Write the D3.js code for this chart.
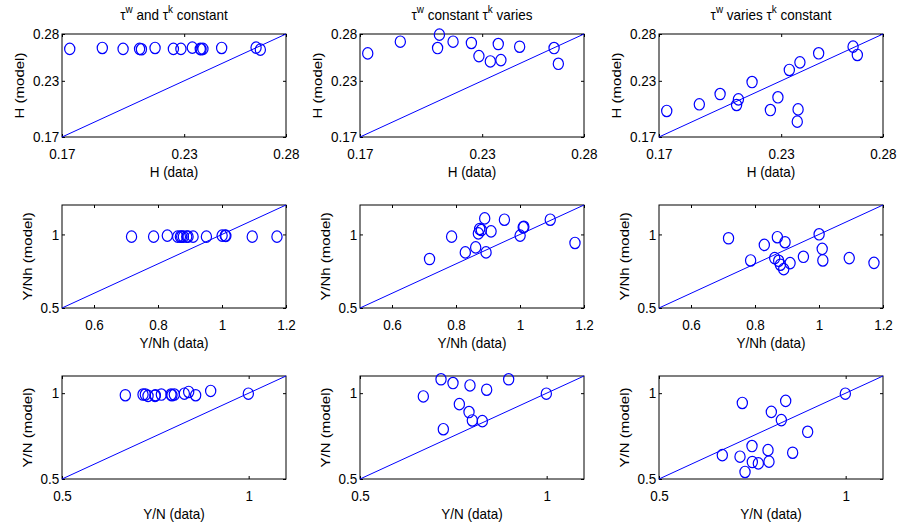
<!DOCTYPE html>
<html>
<head>
<meta charset="utf-8">
<script src="https://cdn.jsdelivr.net/npm/d3@7"></script>
<style>
  body { margin: 0; background: #fff; }
  svg text { font-family: Arial, "Liberation Sans", Helvetica, sans-serif; font-size: 15px; fill: #000; }
</style>
</head>
<body>
<svg width="901" height="532"></svg>
<script>
// H (data) shared by the top row
var hData   = [0.1738, 0.1898, 0.2000, 0.2081, 0.2090, 0.2157, 0.2247, 0.2284, 0.2340, 0.2379, 0.2383, 0.2392, 0.2484, 0.2653, 0.2674];
var hModelA = [0.2641, 0.2651, 0.2641, 0.2641, 0.2637, 0.2651, 0.2641, 0.2641, 0.2655, 0.2641, 0.2637, 0.2641, 0.2651, 0.2655, 0.2633];
var hModelB = [0.2593, 0.2718, 0.2900, 0.2650, 0.2793, 0.2718, 0.2704, 0.2564, 0.2507, 0.2693, 0.2900, 0.2521, 0.2664, 0.2650, 0.2482];
var hModelC = [0.1978, 0.2049, 0.2159, 0.2042, 0.2102, 0.2287, 0.1988, 0.2124, 0.2416, 0.1864, 0.1995, 0.2497, 0.2594, 0.2665, 0.2576];

// Y/Nh (data) shared by the middle row
var yNhData   = [0.7173, 0.7863, 0.8291, 0.8615, 0.8699, 0.8740, 0.8793, 0.8897, 0.8939, 0.9096, 0.9513, 1.0004, 1.0100, 1.0120, 1.0945, 1.1718];
var yNhModelA = [0.985, 0.985, 0.992, 0.985, 0.985, 0.985, 0.985, 0.985, 0.985, 0.985, 0.985, 0.992, 0.992, 0.990, 0.985, 0.985];
var yNhModelB = [0.833, 0.985, 0.878, 0.912, 1.007, 1.037, 1.030, 1.109, 0.878, 1.021, 1.100, 0.992, 1.048, 1.052, 1.100, 0.942];
var yNhModelC = [0.974, 0.823, 0.929, 0.839, 0.981, 0.821, 0.794, 0.764, 0.947, 0.805, 0.848, 1.001, 0.902, 0.823, 0.839, 0.807];

// Y/N (data) shared by the bottom row
var yNData   = [0.6696, 0.7170, 0.7232, 0.7304, 0.7491, 0.7500, 0.7661, 0.7920, 0.7946, 0.8009, 0.8277, 0.8393, 0.8580, 0.8982, 0.9991];
var yNModelA = [0.988, 0.992, 0.992, 0.984, 0.984, 0.988, 0.992, 0.992, 0.988, 0.992, 0.997, 1.007, 0.988, 1.013, 0.997];
var yNModelB = [0.981, 1.081, 0.790, 1.120, 1.059, 1.120, 0.936, 0.890, 1.045, 0.841, 0.837, 1.020, 1.120, 1.081, 0.997];
var yNModelC = [0.639, 0.630, 0.943, 0.541, 0.692, 0.599, 0.591, 0.668, 0.601, 0.891, 0.843, 0.955, 0.653, 0.775, 0.997];

// axis limits, ticks, labels per row
var rowDomains = [[0.17, 0.28], [0.5, 1.2], [0.5, 1.1]];
var rowXTicks  = [[0.17, 0.23, 0.28], [0.6, 0.8, 1, 1.2], [0.5, 1]];
var rowYTicks  = [[0.17, 0.23, 0.28], [0.5, 1], [0.5, 1]];
var rowXLabels = ["H (data)", "Y/Nh (data)", "Y/N (data)"];
var rowYLabels = ["H (model)", "Y/Nh (model)", "Y/N (model)"];
var rowX = [hData, yNhData, yNData];
var rowY = [[hModelA, hModelB, hModelC], [yNhModelA, yNhModelB, yNhModelC], [yNModelA, yNModelB, yNModelC]];

// titles: tau superscript, text, tau superscript, text
var titles = [
  ["w", " and ", "k", " constant"],
  ["w", " constant ", "k", " varies"],
  ["w", " varies ", "k", " constant"]
];

var svg = d3.select("svg");
var colLeft = [62, 360, 659], rowTop = [34, 205, 376];
var pw = 224, ph = 103;
var blue = "#0000ff";
var sx = 0.9; // horizontal squeeze of the text, like the original

rowDomains.forEach(function (dom, r) {
  colLeft.forEach(function (left, c) {
    var top = rowTop[r];
    var g = svg.append("g").attr("transform", "translate(" + left + "," + top + ")");

    var x = d3.scaleLinear().domain(dom).range([0, pw]);
    var y = d3.scaleLinear().domain(dom).range([ph, 0]);

    // ticks on all four sides, pointing inward
    var fmt = function (d) { return String(d); };
    g.append("g").attr("transform", "translate(0," + ph + ")")
      .call(d3.axisBottom(x).tickValues(rowXTicks[r]).tickFormat(fmt).tickSizeInner(-3).tickSizeOuter(0).tickPadding(11));
    g.append("g")
      .call(d3.axisLeft(y).tickValues(rowYTicks[r]).tickFormat(fmt).tickSizeInner(-3).tickSizeOuter(0).tickPadding(3));
    g.append("g")
      .call(d3.axisTop(x).tickValues(rowXTicks[r]).tickFormat("").tickSizeInner(-3).tickSizeOuter(0));
    g.append("g").attr("transform", "translate(" + pw + ",0)")
      .call(d3.axisRight(y).tickValues(rowYTicks[r]).tickFormat("").tickSizeInner(-3).tickSizeOuter(0));
    g.selectAll(".domain").remove();
    g.selectAll(".tick line").attr("stroke", "#000");
    g.selectAll(".tick text").attr("font-size", null).attr("font-family", null)
      .attr("transform", "scale(" + sx + ",1)");

    g.append("rect").attr("width", pw).attr("height", ph)
      .attr("fill", "none").attr("stroke", "#000").attr("stroke-width", 1);

    // 45 degree line
    g.append("path")
      .datum([dom[0], dom[1]])
      .attr("d", d3.line().x(function (d) { return x(d); }).y(function (d) { return y(d); }))
      .attr("stroke", blue).attr("stroke-width", 1).attr("fill", "none");

    // markers (points outside the limits are not drawn)
    var pts = rowX[r].map(function (v, i) { return [v, rowY[r][c][i]]; })
      .filter(function (p) { return p[0] >= dom[0] && p[0] <= dom[1] && p[1] >= dom[0] && p[1] <= dom[1]; });
    g.selectAll("ellipse.pt").data(pts).enter().append("ellipse")
      .attr("class", "pt")
      .attr("cx", function (d) { return x(d[0]); })
      .attr("cy", function (d) { return y(d[1]); })
      .attr("rx", 5.1).attr("ry", 5.7)
      .attr("fill", "none").attr("stroke", blue).attr("stroke-width", 1.2);

    // axis labels
    g.append("text")
      .attr("transform", "translate(" + (pw / 2) + "," + (ph + 40) + ") scale(" + sx + ",1)")
      .attr("text-anchor", "middle")
      .text(rowXLabels[r]);
    g.append("text")
      .attr("transform", "translate(" + (r === 0 ? -38 : -30) + "," + (ph / 2) + ") rotate(-90) scale(1," + sx + ")")
      .attr("text-anchor", "middle")
      .text(rowYLabels[r]);

    // titles on the top row
    if (r === 0) {
      var t = titles[c];
      var tt = g.append("text")
        .attr("transform", "translate(" + (pw / 2) + ",-14) scale(" + sx + ",1)")
        .attr("text-anchor", "middle");
      tt.append("tspan").text("\u03c4");
      tt.append("tspan").attr("dy", -7).attr("font-size", "11px").text(t[0]);
      tt.append("tspan").attr("dy", 7).text(t[1] + "\u03c4");
      tt.append("tspan").attr("dy", -7).attr("font-size", "11px").text(t[2]);
      tt.append("tspan").attr("dy", 7).text(t[3]);
    }
  });
});
</script>
</body>
</html>
